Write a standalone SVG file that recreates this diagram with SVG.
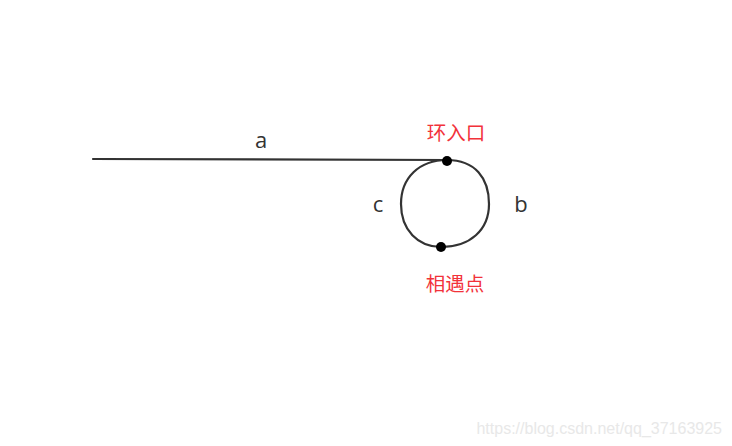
<svg xmlns="http://www.w3.org/2000/svg" width="732" height="446" viewBox="0 0 732 446">
<style>
.ln{fill:none;stroke:#333;stroke-width:2.2;stroke-linecap:round}
.lbl{font-family:"Open Sans","Noto Sans",sans-serif;font-size:22px;fill:#333;text-anchor:middle}
.red{font-family:"Noto Sans CJK SC",sans-serif;font-size:19.5px;fill:#f2323a;text-anchor:middle}
.dot{fill:#000}
</style>
<rect width="732" height="446" fill="#fff"/>
<g id="connectors">
<path class="ln" d="M93,159 L447,160"/>
</g>
<g id="loop">
<path class="ln" d="M447,160 C475,160 489,178 489,204 C489,230 470,247 441,247 C418,247 401,230 401,204 C401,178 419,160 447,160 Z"/>
</g>
<g id="entry">
<circle class="dot" cx="447" cy="161" r="5"/>
<text class="red" x="456" y="140">环入口</text>
</g>
<g id="meet">
<circle class="dot" cx="441" cy="247" r="5"/>
<text class="red" x="455" y="291">相遇点</text>
</g>
<g id="labels">
<text class="lbl" x="261" y="148">a</text>
<text class="lbl" x="378" y="212">c</text>
<text class="lbl" x="521" y="212">b</text>
</g>
<text x="722" y="434" font-family="Liberation Sans,Arial,sans-serif" font-size="16" fill="#e8e8e8" text-anchor="end">https://blog.csdn.net/qq_37163925</text>
</svg>
